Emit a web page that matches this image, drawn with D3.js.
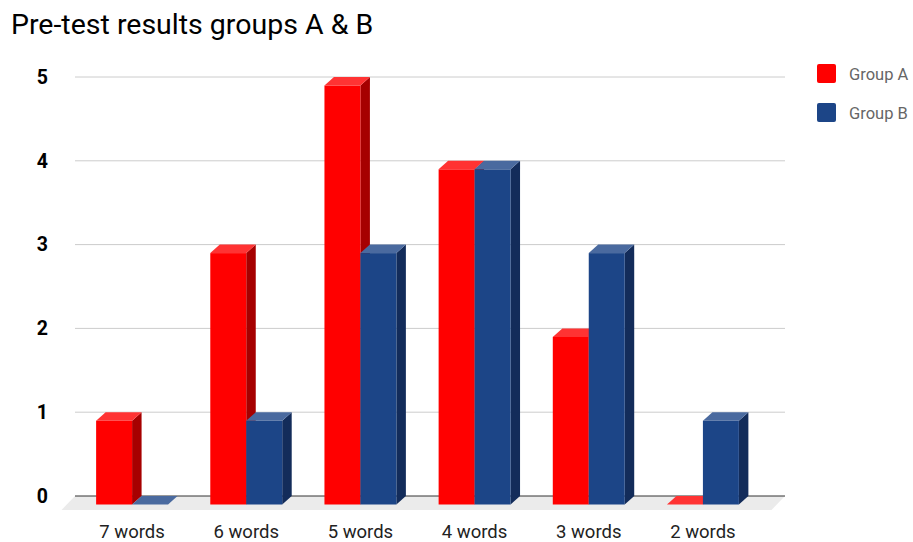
<!DOCTYPE html>
<html><head><meta charset="utf-8">
<script src="https://cdn.jsdelivr.net/npm/d3@7"></script>
<style>body{margin:0;background:#fff}svg{display:block;font-family:Roboto,sans-serif}</style>
</head><body><svg id="c" width="913" height="542"></svg>
<script>
const categories = ["7 words","6 words","5 words","4 words","3 words","2 words"];
const groupA = [1,3,5,4,2,0];
const groupB = [0,1,3,4,3,1];
const seriesNames = ["Group A","Group B"];
const yTicks = [0,1,2,3,4,5];

const svg = d3.select("#c");
const dx = 9.5, dy = 8.5;
const backLeft = 75, backRight = 785;
const y = d3.scaleLinear().domain([0,5]).range([496,77]);
const x0 = d3.scaleBand().domain(categories).range([75,760]).paddingInner(0.37).paddingOuter(0.185);
const x1 = d3.scaleBand().domain(seriesNames).range([0,x0.bandwidth()]);
const colors = {
  "Group A": {front:"#ff0000", side:"#a60000", top:"#ff3333"},
  "Group B": {front:"#1c4587", side:"#132c5a", top:"#4a6a9f"}
};

svg.append("text").attr("x",11).attr("y",34).attr("font-size",28.5).attr("fill","#000").text("Pre-test results groups A & B");

// floor
const fd = 13.5;
svg.append("polygon").attr("points",[[backLeft-fd,496+14],[backLeft,496],[backRight,496],[backRight-fd,496+14]].map(p=>p.join(",")).join(" ")).attr("fill","#ebebeb");

// gridlines
svg.selectAll(".grid").data(yTicks).join("line")
  .attr("x1",backLeft).attr("x2",backRight).attr("y1",d=>y(d)).attr("y2",d=>y(d))
  .attr("stroke",d=>d===0?"#333":"#ccc").attr("stroke-width",1);

svg.selectAll(".ylab").data(yTicks).join("text")
  .attr("x",48).attr("y",d=>y(d)).attr("dy","0.35em").attr("text-anchor","end")
  .attr("font-weight","bold").attr("font-size",19.5).attr("fill","#000").text(d=>d);

const bars = [];
categories.forEach((c,i)=>{
  bars.push({cat:c, s:"Group A", v:groupA[i]});
  bars.push({cat:c, s:"Group B", v:groupB[i]});
});
const g = svg.append("g");
bars.forEach(b=>{
  const x = x0(b.cat)+x1(b.s), w = x1.bandwidth();
  const yb = y(0)+dy, yt = y(b.v)+dy;
  const col = colors[b.s];
  const bg = g.append("g");
  if (b.v>0) {
    bg.append("polygon").attr("points",[[x+w,yt],[x+w+dx,yt-dy],[x+w+dx,yb-dy],[x+w,yb]].map(p=>p.join(",")).join(" ")).attr("fill",col.side);
    bg.append("rect").attr("x",x).attr("y",yt).attr("width",w).attr("height",yb-yt).attr("fill",col.front);
  }
  bg.append("polygon").attr("points",[[x,yt],[x+dx,yt-dy],[x+w+dx,yt-dy],[x+w,yt]].map(p=>p.join(",")).join(" ")).attr("fill",col.top);
});

svg.selectAll(".xlab").data(categories).join("text")
  .attr("x",d=>x0(d)+x0.bandwidth()/2).attr("y",537.5).attr("text-anchor","middle")
  .attr("font-size",18.5).attr("fill","#222").text(d=>d);

const leg = svg.selectAll(".leg").data(seriesNames).join("g").attr("transform",(d,i)=>`translate(817,${64+i*39})`);
leg.append("rect").attr("width",19).attr("height",19).attr("rx",2).attr("fill",d=>colors[d].front);
leg.append("text").attr("x",32).attr("y",10).attr("dy","0.35em").attr("font-size",16.5).attr("fill","#666").text(d=>d);
</script></body></html>
